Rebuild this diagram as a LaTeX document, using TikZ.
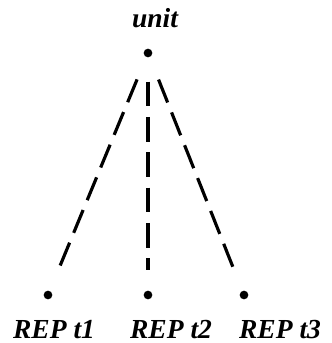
\documentclass[tikz,border=0pt]{standalone}
\usepackage{fontspec}
\setmainfont{Liberation Serif}
\usepackage{tikz}
\usetikzlibrary{positioning}

\begin{document}
\begin{tikzpicture}[
				x=0.03cm, y=-0.03cm,
				dot/.style={circle, fill=black, inner sep=0pt, minimum size=0.26cm},
				lbl/.style={anchor=base, inner sep=0pt, font=\fontsize{23.5}{26}\selectfont\bfseries\itshape},
				link/.style={line width=2.7pt, dash pattern=on 0.74cm off 0.32cm,
					shorten <=0.72cm, shorten >=0.62cm}
				]
				\useasboundingbox (0,0) rectangle (331,343);
				\node[dot] (unit) at (148,53) {};
				\node[lbl] (unitlbl) at (155,28) {unit};
				\node[dot] (rep1) at (48,295) {};
				\node[dot] (rep2) at (148,295) {};
				\node[dot] (rep3) at (244,295) {};
				\node[lbl] (rep1lbl) at (54,338) {REP t1};
				\node[lbl] (rep2lbl) at (171,338) {REP t2};
				\node[lbl] (rep3lbl) at (280,338) {REP t3};
				\draw[link] (unit) -- (rep1);
				\draw[link] (unit) -- (rep2);
				\draw[link] (unit) -- (rep3);
			\end{tikzpicture}
\end{document}
